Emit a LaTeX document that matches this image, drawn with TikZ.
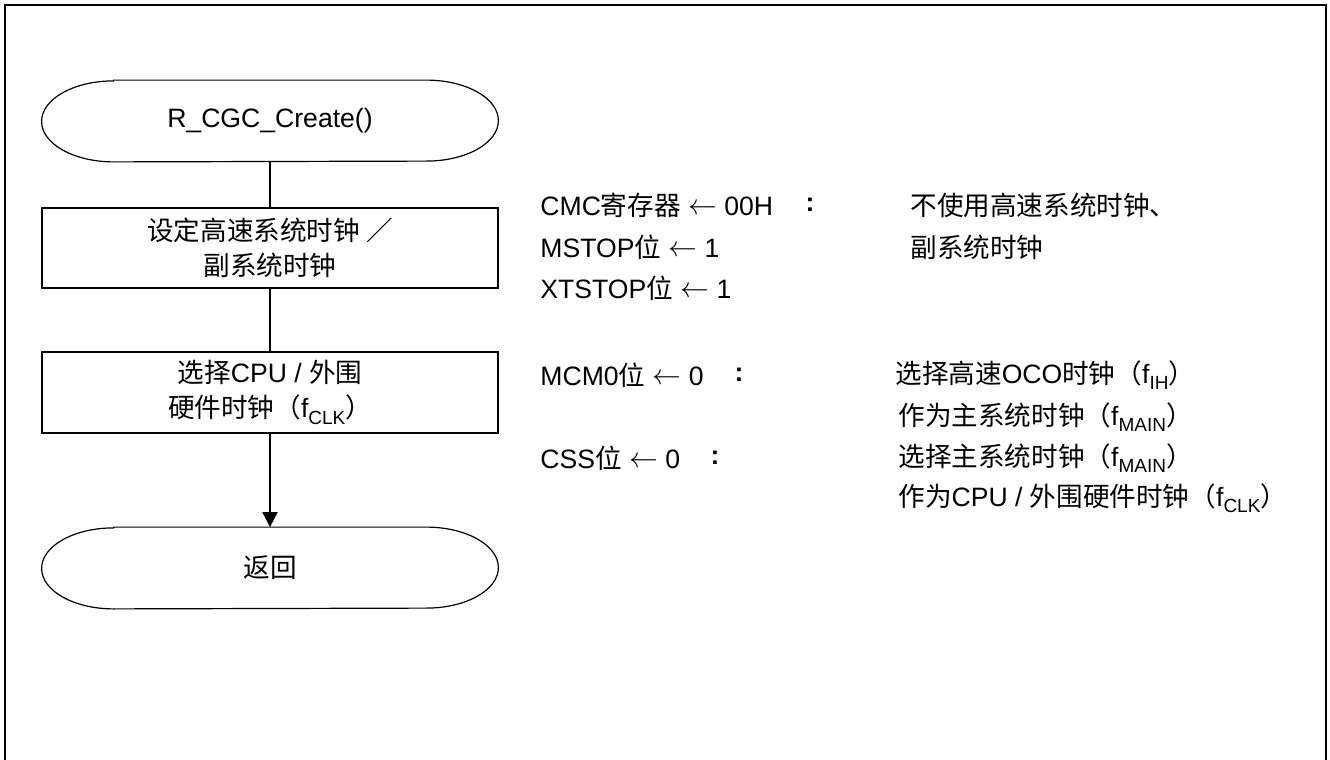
\documentclass[tikz,border=0pt]{standalone}
\usepackage{fontspec}
\setmainfont{Liberation Sans}
\newfontfamily\cjk{Noto Sans CJK SC}
\usetikzlibrary{arrows.meta}
\newcommand{\zh}[1]{{\cjk #1}}
\newcommand{\fsub}[1]{\raisebox{-0.45ex}{\fontsize{9.5pt}{9.5pt}\selectfont #1}}
\newcommand{\larr}{\raisebox{0.05ex}{$\leftarrow$}}
\newcommand{\termshape}[1]{\draw[line width=0.6pt] ([xshift=36pt]#1.north west) -- ([xshift=-36pt]#1.north east) arc[start angle=90, end angle=-90, x radius=36pt, y radius=20.25pt] -- ([xshift=36pt]#1.south west) arc[start angle=270, end angle=90, x radius=36pt, y radius=20.25pt] -- cycle;}
\begin{document}
\begin{tikzpicture}[x=0.5pt,y=-0.5pt,
  base/.style={font=\fontsize{13.3pt}{17.5pt}\selectfont},
  term/.style={base, minimum width=228pt, minimum height=40.5pt, inner sep=0pt},
  proc/.style={base, draw, line width=1pt, minimum width=228pt, minimum height=40pt, align=center, inner sep=0pt},
  conn/.style={line width=1pt},
  lbl/.style={base, anchor=west, inner sep=0pt},
  colon/.style={base, inner sep=0pt}]
\useasboundingbox (0,0) rectangle (1330,760);
\draw[line width=1pt] (5,5) rectangle (1326,780);

% flow nodes
\node[term] (start) at (270,121) {R\_CGC\_Create()};
\termshape{start}
\node[proc] (p1) at (270,248) {\zh{设定高速系统时钟 ／}\\\zh{副系统时钟}};
\node[proc, minimum height=40.5pt] (p2) at (270,392.5) {\zh{选择}CPU / \zh{外围}\\\zh{硬件时钟（}f\fsub{CLK}\zh{）}};
\node[term] (end) at (270,568) {\zh{返回}};
\termshape{end}

% connectors
\draw[conn] (start) -- (p1);
\draw[conn] (p1) -- (p2);
\draw[conn, -{Triangle[length=7.5pt,width=7.5pt]}] (p2) -- (end);

% annotations, column 1
\node[lbl] (a1) at (540,205) {CMC\zh{寄存器} \larr{} 00H};
\node[lbl] (a2) at (540,247) {MSTOP\zh{位} \larr{} 1};
\node[lbl] (a3) at (540,288) {XTSTOP\zh{位} \larr{} 1};
\node[lbl] (a4) at (540,375) {MCM0\zh{位} \larr{} 0};
\node[lbl] (a5) at (540,458) {CSS\zh{位} \larr{} 0};

% colons
\node[colon] (k1) at (810,205) {\textbf{:}};
\node[colon] (k2) at (739,375) {\textbf{:}};
\node[colon] (k3) at (715,458) {\textbf{:}};

% annotations, column 2
\node[lbl] (b1) at (910,205) {\zh{不使用高速系统时钟、}};
\node[lbl] (b2) at (910,247) {\zh{副系统时钟}};
\node[lbl] (b3) at (895,375) {\zh{选择高速}OCO\zh{时钟（}f\fsub{IH}\zh{）}};
\node[lbl] (b4) at (898,417) {\zh{作为主系统时钟（}f\fsub{MAIN}\zh{）}};
\node[lbl] (b5) at (898,458) {\zh{选择主系统时钟（}f\fsub{MAIN}\zh{）}};
\node[lbl] (b6) at (898,498) {\zh{作为}CPU / \zh{外围硬件时钟（}f\fsub{CLK}\zh{）}};
\end{tikzpicture}
\end{document}
